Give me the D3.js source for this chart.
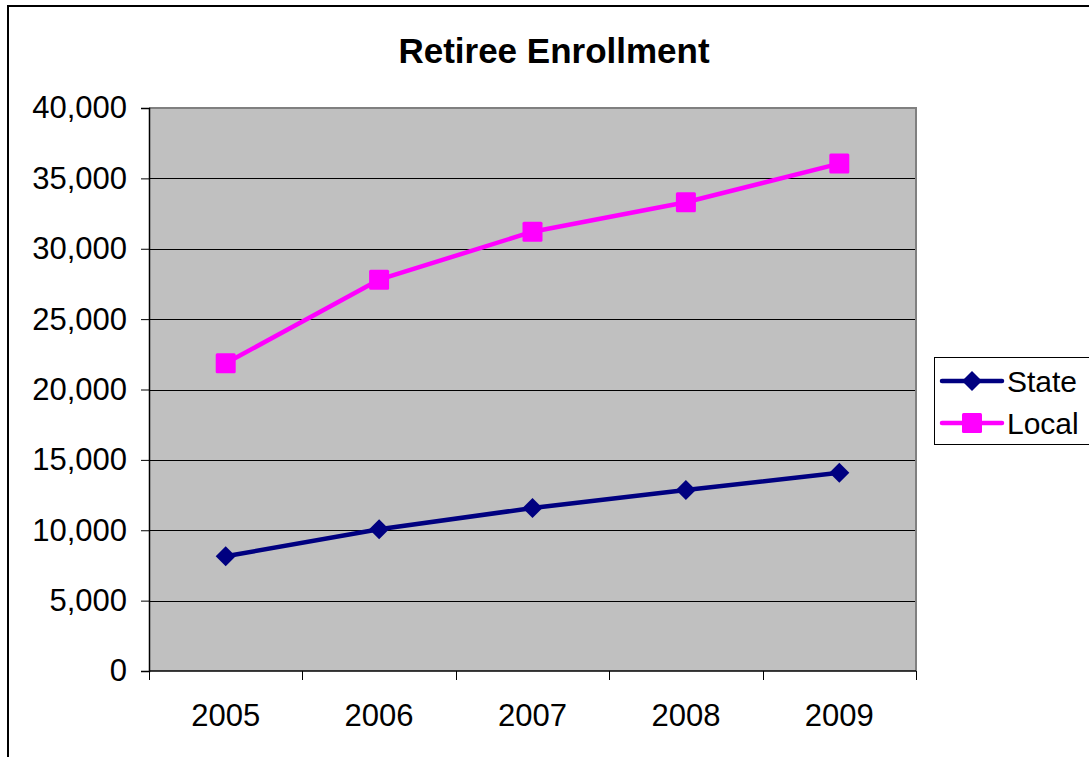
<!DOCTYPE html>
<html>
<head>
<meta charset="utf-8">
<script src="https://cdn.jsdelivr.net/npm/d3@7"></script>
<style>
  html, body { margin: 0; padding: 0; background: #fff; overflow: hidden; }
  svg { display: block; font-family: "Liberation Sans", Arial, sans-serif; }
</style>
</head>
<body>
<svg id="chart" width="1089" height="757"></svg>
<script>
// Retiree enrollment by year
const years = ["2005", "2006", "2007", "2008", "2009"];
const stateValues = [8150, 10070, 11580, 12860, 14090];
const localValues = [21860, 27800, 31210, 33300, 36050];
const yTicks = [0, 5000, 10000, 15000, 20000, 25000, 30000, 35000, 40000];
const seriesNames = ["State", "Local"];

const svg = d3.select("#chart");
const W = 1089, H = 757;

// Outer chart frame (runs off the right and bottom edges)
svg.append("rect")
  .attr("x", 8).attr("y", 6)
  .attr("width", W + 20).attr("height", H + 20)
  .attr("fill", "#fff").attr("stroke", "#000").attr("stroke-width", 2);

const plot = { left: 149, top: 108, right: 916, bottom: 671 };

const x = d3.scaleBand().domain(years).range([plot.left, plot.right]).padding(0);
const y = d3.scaleLinear().domain([0, 40000]).range([plot.bottom, plot.top]);

// Title
svg.append("text")
  .attr("x", 554).attr("y", 63)
  .attr("text-anchor", "middle")
  .attr("font-size", 35).attr("font-weight", "bold")
  .text("Retiree Enrollment");

// Plot background
svg.append("rect")
  .attr("x", plot.left).attr("y", plot.top)
  .attr("width", plot.right - plot.left).attr("height", plot.bottom - plot.top)
  .attr("fill", "#c0c0c0");

// Gridlines
svg.append("g")
  .selectAll("line")
  .data(yTicks.filter(d => d > 0 && d < 40000))
  .join("line")
  .attr("x1", plot.left).attr("x2", plot.right)
  .attr("y1", d => Math.round(y(d)) + 0.5).attr("y2", d => Math.round(y(d)) + 0.5)
  .attr("stroke", "#000").attr("stroke-width", 1);

// Plot border (top and right in gray)
svg.append("path")
  .attr("d", `M${plot.left},${plot.top}H${plot.right}V${plot.bottom}`)
  .attr("fill", "none").attr("stroke", "#808080").attr("stroke-width", 2);

// Y axis
const yAxis = d3.axisLeft(y)
  .tickValues(yTicks)
  .tickSize(8)
  .tickPadding(14)
  .tickFormat(d3.format(","));
const gy = svg.append("g")
  .attr("transform", `translate(${plot.left},0)`)
  .call(yAxis);
gy.select(".domain").attr("stroke", "#000").attr("stroke-width", 1.5);
gy.selectAll(".tick line").attr("stroke", "#000");
gy.selectAll("text")
  .attr("font-size", 31).attr("fill", "#000")
  .attr("font-family", "Liberation Sans, Arial, sans-serif");

// X axis with ticks on category boundaries
const gx = svg.append("g")
  .attr("transform", `translate(0,${plot.bottom})`);
gx.append("line")
  .attr("x1", plot.left).attr("x2", plot.right)
  .attr("y1", 0).attr("y2", 0)
  .attr("stroke", "#000").attr("stroke-width", 1.5);
const boundaries = years.map(d => x(d)).concat([x(years[years.length - 1]) + x.bandwidth()]);
gx.selectAll("line.tick")
  .data(boundaries)
  .join("line")
  .attr("class", "tick")
  .attr("x1", d => Math.round(d) + 0.5).attr("x2", d => Math.round(d) + 0.5)
  .attr("y1", 0).attr("y2", 9)
  .attr("stroke", "#000");
gx.selectAll("text")
  .data(years)
  .join("text")
  .attr("x", d => x(d) + x.bandwidth() / 2)
  .attr("y", 55)
  .attr("text-anchor", "middle")
  .attr("font-size", 31)
  .text(d => d);

// Series
const cx = d => x(d) + x.bandwidth() / 2;
const series = [
  { name: seriesNames[0], values: stateValues, color: "#000080", symbol: "diamond" },
  { name: seriesNames[1], values: localValues, color: "#ff00ff", symbol: "square" }
];

const line = d3.line().x(d => cx(d.year)).y(d => y(d.value));

function marker(g, s, px, py) {
  if (s.symbol === "diamond") {
    g.append("path")
      .attr("d", `M${px},${py - 10}L${px + 10},${py}L${px},${py + 10}L${px - 10},${py}Z`)
      .attr("fill", s.color);
  } else {
    g.append("rect")
      .attr("x", px - 10).attr("y", py - 10)
      .attr("width", 20).attr("height", 20)
      .attr("rx", 1.5)
      .attr("fill", s.color);
  }
}

series.forEach(s => {
  const pts = years.map((yr, i) => ({ year: yr, value: s.values[i] }));
  const g = svg.append("g");
  g.append("path")
    .datum(pts)
    .attr("d", line)
    .attr("fill", "none")
    .attr("stroke", s.color)
    .attr("stroke-width", 4.5)
    .attr("stroke-linejoin", "round");
  pts.forEach(p => marker(g, s, cx(p.year), y(p.value)));
});

// Legend
const legend = svg.append("g");
legend.append("rect")
  .attr("x", 934.5).attr("y", 357.5)
  .attr("width", 200).attr("height", 87)
  .attr("fill", "#fff").attr("stroke", "#000").attr("stroke-width", 1);
series.forEach((s, i) => {
  const ly = 381 + i * 42;
  legend.append("line")
    .attr("x1", 942).attr("x2", 1002)
    .attr("y1", ly).attr("y2", ly)
    .attr("stroke", s.color).attr("stroke-width", 4.5)
    .attr("stroke-linecap", "round");
  marker(legend, s, 972, ly);
  legend.append("text")
    .attr("x", 1007).attr("y", ly + 11)
    .attr("font-size", 30)
    .text(s.name);
});
</script>
</body>
</html>
